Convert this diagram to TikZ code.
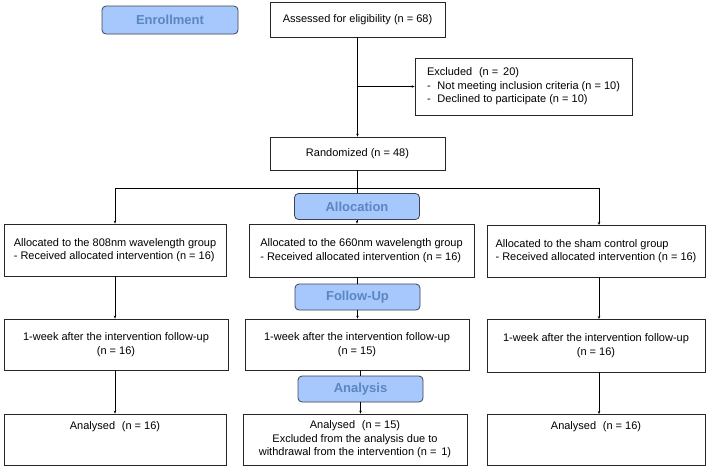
\documentclass[tikz,border=0pt]{standalone}
\usepackage{fontspec}
\setmainfont{Liberation Sans}
\usetikzlibrary{arrows.meta}

\definecolor{stagefill}{HTML}{A6C8FC}
\definecolor{stagetext}{HTML}{5A86C2}
\definecolor{stageline}{HTML}{3E4450}

\begin{document}
\begin{tikzpicture}[x=1pt,y=-1pt,
    font=\fontsize{11}{13.5}\selectfont,
    box/.style={draw=black!85, line width=0.75pt, fill=white, inner sep=2pt},
    stage/.style={draw=stageline, line width=0.8pt, fill=stagefill, rounded corners=4pt,
        minimum width=125pt, minimum height=26pt, text=stagetext,
        font=\fontsize{13}{15}\selectfont\bfseries},
    link/.style={line width=0.75pt, -{Stealth[length=3pt,width=2.5pt]}}]
    \fill[white] (0,0) rectangle (708,467);

    \node[stage] (enroll) at (170,20) [minimum width=136pt, minimum height=28pt] {Enrollment};
    \node[box, minimum width=175pt, minimum height=35pt] (assess) at (357.5,19.5) {Assessed for eligibility (n = 68)};
    \node[box, minimum width=217pt, minimum height=57pt, align=left] (excl) at (523.5,86.5)
        {Excluded\,\, (n = \,20)\\
         -\,\, Not meeting inclusion criteria (n = 10)\\
         -\,\, Declined to participate (n = 10)};
    \node[box, minimum width=175pt, minimum height=33pt] (rand) at (357.5,153.5) {Randomized (n = 48)};

    \node[stage] (alloc) at (357,206.5) {Allocation};
    \node[box, minimum width=222pt, minimum height=52pt, align=left] (g1) at (115,250)
        {Allocated to the 808nm wavelength group\\- Received allocated intervention (n = 16)};
    \node[box, minimum width=225pt, minimum height=53pt, align=left] (g2) at (361.5,250.5)
        {Allocated to the 660nm wavelength group\\- Received allocated intervention (n = 16)};
    \node[box, minimum width=218pt, minimum height=52pt, align=left] (g3) at (596,251)
        {Allocated to the sham control group\\- Received allocated intervention (n = 16)};

    \node[stage] (follow) at (357.5,297) {Follow-Up};
    \node[box, minimum width=224pt, minimum height=51pt, align=center] (f1) at (116,344.5)
        {1-week after the intervention follow-up\\(n = 16)};
    \node[box, minimum width=224pt, minimum height=51pt, align=center] (f2) at (357,344.5)
        {1-week after the intervention follow-up\\(n = 15)};
    \node[box, minimum width=218pt, minimum height=53pt, align=center] (f3) at (596,345.5)
        {1-week after the intervention follow-up\\(n = 16)};

    \node[stage] (analys) at (360.5,389) {Analysis};
    \node[box, minimum width=222pt, minimum height=51pt, align=center] (a1) at (115,439.5)
        {Analysed\,\, (n = 16)\\\phantom{x}\\\phantom{x}};
    \node[box, minimum width=224pt, minimum height=51pt, align=center] (a2) at (355,439.5)
        {Analysed\,\, (n = 15)\\Excluded from the analysis due to\\withdrawal from the intervention (n = \,1)};
    \node[box, minimum width=218pt, minimum height=51pt, align=center] (a3) at (596,439.5)
        {Analysed\,\, (n = 16)\\\phantom{x}\\\phantom{x}};

    \coordinate (split) at (357.5,188);
    \draw[link] (assess) -- (rand);
    \draw[link] (assess.south |- excl.west) -- (excl.west);
    \draw[line width=0.75pt] (rand) -- (split);
    \draw[line width=0.75pt] (split -| g1.north) -- (split -| 599,0);
    \draw[link] (split -| g1.north) -- (g1.north);
    \draw[link] (split -| 599,0) -- (599,225);
    \draw[line width=0.75pt] (split) -- (alloc);
    \draw[link] (alloc) -- (alloc.south |- g2.north);

    \draw[link] (g1) -- (g1.south |- f1.north);
    \draw[line width=0.75pt] (g2.south -| follow) -- (follow);
    \draw[link] (follow) -- (follow.south |- f2.north);
    \draw[link] (g3.south -| 599,0) -- (599,319);

    \draw[link] (f1.south -| g1.south) -- (g1.south |- a1.north);
    \draw[line width=0.75pt] (f2.south -| analys) -- (analys);
    \draw[link] (analys) -- (analys.south |- a2.north);
    \draw[link] (f3.south -| 599,0) -- (599,414);
\end{tikzpicture}
\end{document}
